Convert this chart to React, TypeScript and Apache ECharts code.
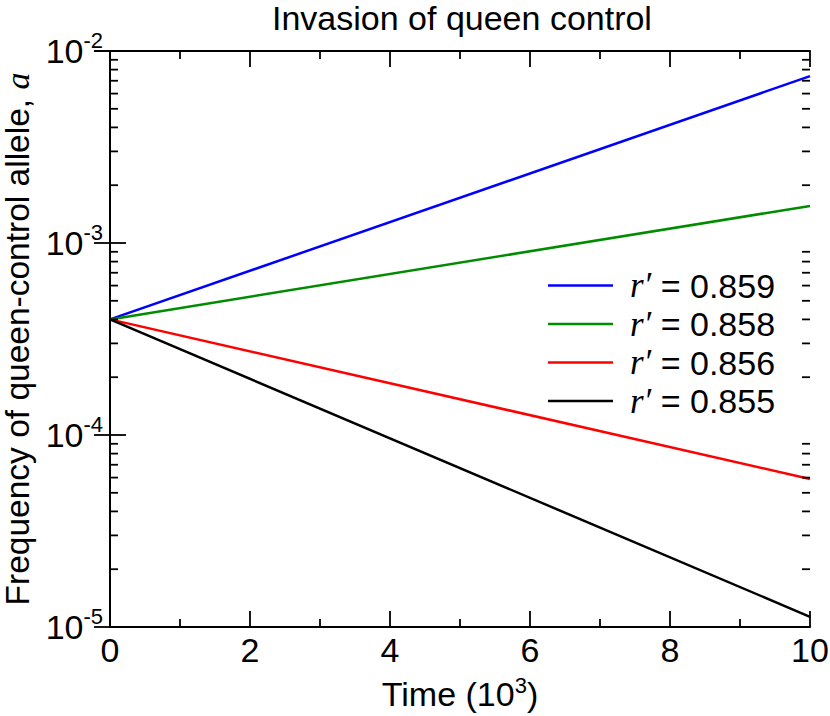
import React, { useEffect, useRef } from "react";
import * as echarts from "echarts";

const timeStart = 0;
const timeEnd = 10;
const seriesNames = ["0.859", "0.858", "0.856", "0.855"];
const seriesColors = ["#0000ff", "#008c00", "#ff0000", "#000000"];
const startValues = [4.0e-4, 4.0e-4, 4.0e-4, 4.0e-4];
const endValues = [7.4e-3, 1.56e-3, 5.9e-5, 1.13e-5];
const yMinorMultipliers = [2, 3, 4, 5, 6, 7, 8, 9];
const yDecades = [1e-5, 1e-4, 1e-3];

const FONT = "'Liberation Sans', Arial, Helvetica, sans-serif";
const SERIF = "'Liberation Serif', 'Times New Roman', serif";

export default function App() {
  const ref = useRef<HTMLDivElement>(null);
  useEffect(() => {
    if (!ref.current) return;
    const chart = echarts.init(ref.current, null, { renderer: "svg" });
    const yMinor: number[] = [];
    yDecades.forEach((d) => yMinorMultipliers.forEach((m) => yMinor.push(m * d)));

    const lineSeries = seriesNames.map((n, i) => ({
      name: n,
      type: "line",
      xAxisIndex: 0,
      yAxisIndex: 0,
      showSymbol: false,
      symbol: "none",
      lineStyle: { color: seriesColors[i], width: 2.5 },
      itemStyle: { color: seriesColors[i] },
      data: [
        [timeStart, startValues[i]],
        [timeEnd, endValues[i]],
      ],
      z: 3,
    }));

    const axisLine = { show: true, lineStyle: { color: "#000", width: 2 } };
    const majorTick = { show: true, inside: true, length: 16, lineStyle: { color: "#000", width: 1.8 } };

    const yLabelFmt = (v: number) => {
      const e = Math.round(Math.log10(v));
      return `{b|10}{s|${e}}`;
    };

    chart.setOption({
      animation: false,
      backgroundColor: "#fff",
      title: {
        text: "Invasion of queen control",
        left: 272,
        top: 0,
        padding: 0,
        textStyle: { fontFamily: FONT, fontSize: 34, fontWeight: "normal", color: "#000", lineHeight: 36 },
      },
      grid: { left: 110, top: 51, width: 700, height: 576, containLabel: false, outerBoundsMode: "none" },
      legend: {
        orient: "vertical",
        left: 548,
        top: 268,
        padding: 0,
        icon: "rect",
        itemWidth: 65,
        itemHeight: 2.5,
        itemGap: 3.5,
        data: seriesNames,
        formatter: (name: string) => `{g|}{i|r}{p|′} = ${name}`,
        textStyle: {
          fontFamily: FONT,
          fontSize: 34,
          color: "#000",
          lineHeight: 30,
          rich: {
            g: { width: 12 },
            i: { fontFamily: SERIF, fontStyle: "italic", fontSize: 35, lineHeight: 30 },
            p: { fontFamily: SERIF, fontStyle: "italic", fontSize: 35, lineHeight: 30 },
          },
        },
      },
      xAxis: [
        {
          type: "value",
          position: "bottom",
          min: 0,
          max: 10,
          interval: 2,
          name: "Time (10{s|3})",
          nameLocation: "middle",
          nameGap: 47,
          nameTextStyle: {
            fontFamily: FONT,
            fontSize: 34,
            color: "#000",
            lineHeight: 40,
            rich: { s: { fontFamily: FONT, fontSize: 22, verticalAlign: "top", lineHeight: 40 } },
          },
          axisLine,
          axisTick: majorTick,
          minorTick: { show: true, splitNumber: 2, length: 8, lineStyle: { color: "#000", width: 1.8 } },
          axisLabel: { fontFamily: FONT, fontSize: 34, color: "#000", margin: 6 },
          splitLine: { show: false },
          minorSplitLine: { show: false },
        },
        {
          type: "value",
          position: "top",
          min: 0,
          max: 10,
          interval: 2,
          axisLine,
          axisTick: majorTick,
          minorTick: { show: true, splitNumber: 2, length: 8, lineStyle: { color: "#000", width: 1.8 } },
          axisLabel: { show: false },
          splitLine: { show: false },
        },
      ],
      yAxis: [
        {
          type: "log",
          logBase: 10,
          position: "left",
          min: 1e-5,
          max: 1e-2,
          name: "Frequency of queen-control allele, {i|a}",
          nameLocation: "middle",
          nameGap: 76,
          nameTextStyle: {
            fontFamily: FONT,
            fontSize: 33.5,
            color: "#000",
            rich: {
              i: { fontFamily: SERIF, fontStyle: "italic", fontSize: 34 },
            },
          },
          axisLine,
          axisTick: majorTick,
          axisLabel: {
            formatter: yLabelFmt,
            margin: 7,
            rich: {
              b: { fontFamily: FONT, fontSize: 34, color: "#000", lineHeight: 44, verticalAlign: "middle" },
              s: { fontFamily: FONT, fontSize: 22, color: "#000", lineHeight: 44, verticalAlign: "top" },
            },
          },
          splitLine: { show: false },
        },
        {
          type: "log",
          logBase: 10,
          position: "right",
          min: 1e-5,
          max: 1e-2,
          axisLine,
          axisTick: majorTick,
          axisLabel: { show: false },
          splitLine: { show: false },
        },
      ],
      series: [
        ...lineSeries,
        {
          type: "custom",
          name: "minorTicks",
          xAxisIndex: 0,
          yAxisIndex: 0,
          silent: true,
          clip: false,
          encode: { x: 0, y: 1 },
          data: yMinor.map((v) => [timeStart, v]),
          renderItem: (params: any, api: any) => {
            const v = api.value(1);
            const pl = api.coord([timeStart, v]);
            const pr = api.coord([timeEnd, v]);
            const style = { stroke: "#000", lineWidth: 1.8 };
            return {
              type: "group",
              children: [
                { type: "line", shape: { x1: pl[0], y1: pl[1], x2: pl[0] + 8, y2: pl[1] }, style },
                { type: "line", shape: { x1: pr[0], y1: pr[1], x2: pr[0] - 8, y2: pr[1] }, style },
              ],
            };
          },
          z: 4,
        },
      ],
    });
    return () => chart.dispose();
  }, []);
  return (
    <div
      ref={ref}
      style={{ position: "fixed", left: 0, top: 0, width: 830, height: 716, background: "#fff" }}
    />
  );
}
